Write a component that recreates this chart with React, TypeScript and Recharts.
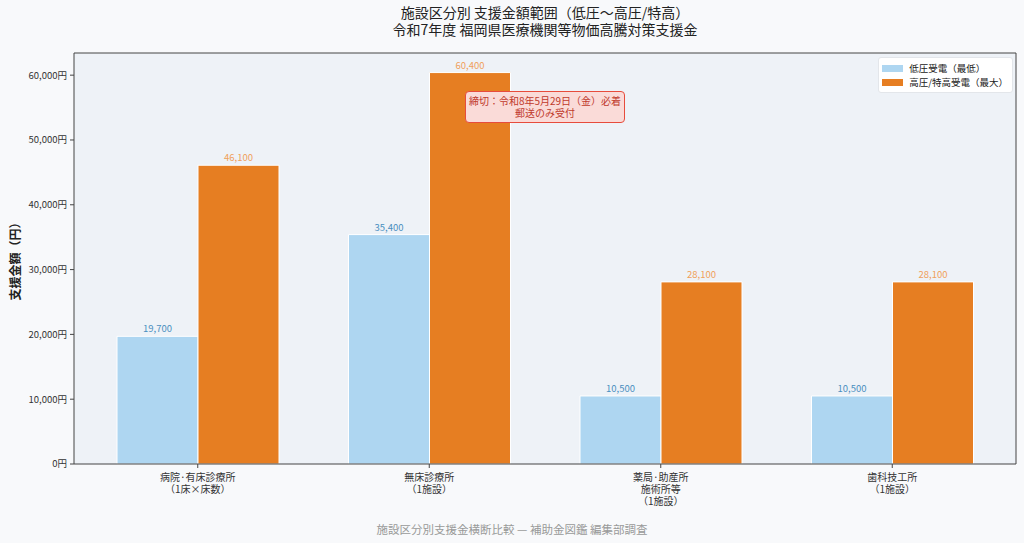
import React from 'react';
import { BarChart, Bar, XAxis, YAxis, CartesianGrid, Legend, LabelList } from 'recharts';

const categories = [
  '病院·有床診療所\n（1床×床数）',
  '無床診療所\n（1施設）',
  '薬局·助産所\n施術所等\n（1施設）',
  '歯科技工所\n（1施設）',
];
const lowValues = [19700, 35400, 10500, 10500];
const highValues = [46100, 60400, 28100, 28100];
const yTicks = [0, 10000, 20000, 30000, 40000, 50000, 60000];
const seriesNames = ['低圧受電（最低）', '高圧/特高受電（最大）'];

const data = categories.map((name, i) => ({ name, low: lowValues[i], high: highValues[i] }));

const FONT = '"Noto Sans CJK JP", "Noto Sans", sans-serif';
const LOW = '#aed6f1';
const HIGH = '#e67e22';

const fmt = (v: any) => Number(v).toLocaleString('en-US');

const CategoryTick = ({ x, y, payload }: any) => {
  const lines = String(payload.value).split('\n');
  return (
    <text x={x} y={y} textAnchor="middle" fontSize={10} fill="#333" fontFamily={FONT}>
      {lines.map((l, i) => (
        <tspan key={i} x={x} dy={i === 0 ? 11 : 12}>{l}</tspan>
      ))}
    </text>
  );
};

const LegendBox = () => (
  <div style={{ background: '#fff', border: '1px solid #e3e6ea', borderRadius: 3, padding: '3px 4px 3px 3px', fontFamily: FONT, fontSize: 9.5, color: '#222', lineHeight: '14px' }}>
    {seriesNames.map((n, i) => (
      <div key={n} style={{ display: 'flex', alignItems: 'center' }}>
        <span style={{ display: 'inline-block', width: 21, height: 7, background: i === 0 ? LOW : HIGH, marginRight: 6 }} />
        {n}
      </div>
    ))}
  </div>
);

export default function App() {
  return (
    <div style={{ position: 'absolute', left: 0, top: 0, width: 1024, height: 543, background: '#f8f9fb', fontFamily: FONT }}>
      <div style={{ position: 'absolute', top: 4, left: 74, width: 942, textAlign: 'center', fontSize: 14, lineHeight: '17px', color: '#222' }}>
        施設区分別 支援金額範囲（低圧〜高圧/特高）<br />令和7年度 福岡県医療機関等物価高騰対策支援金
      </div>
      <BarChart
        width={1024}
        height={543}
        data={data}
        margin={{ top: 52, right: 7, left: 0, bottom: 0 }}
        barGap={0}
        barSize={81}
      >
        <CartesianGrid fill="#eef2f7" horizontal={false} vertical={false} />
        <XAxis
          dataKey="name"
          interval={0}
          padding={{ left: 8, right: 8 }}
          tick={<CategoryTick />}
          tickSize={4}
          stroke="#444"
          height={79}
        />
        <XAxis xAxisId="top" dataKey="name" orientation="top" height={1} tick={false} tickLine={false} stroke="#444" />
        <YAxis
          domain={[0, 63420]}
          ticks={yTicks}
          tickFormatter={(v) => `${fmt(v)}円`}
          tick={{ fontSize: 9.5, fill: '#333', fontFamily: FONT }}
          tickSize={4}
          tickMargin={3}
          stroke="#444"
          width={74}
          label={{ value: '支援金額（円）', angle: -90, position: 'insideLeft', offset: 16, style: { fontSize: 12, fontWeight: 'bold', fill: '#222', fontFamily: FONT, textAnchor: 'middle' } }}
        />
        <YAxis yAxisId="right" orientation="right" width={1} tick={false} tickLine={false} stroke="#444" domain={[0, 63420]} />
        <Legend
          layout="vertical"
          align="center"
          verticalAlign="middle"
          wrapperStyle={{ top: 57, right: 11, left: 'auto', width: 'auto' }}
          content={() => <LegendBox />}
        />
        <Bar dataKey="low" name={seriesNames[0]} fill={LOW} stroke="#fff" strokeWidth={1} isAnimationActive={false}>
          <LabelList dataKey="low" position="top" offset={4} formatter={fmt} style={{ fontSize: 9.5, fill: '#4a8fc0', fontFamily: FONT }} />
        </Bar>
        <Bar dataKey="high" name={seriesNames[1]} fill={HIGH} stroke="#fff" strokeWidth={1} isAnimationActive={false}>
          <LabelList dataKey="high" position="top" offset={4} formatter={fmt} style={{ fontSize: 9.5, fill: '#f0a05a', fontFamily: FONT }} />
        </Bar>
      </BarChart>
      <div style={{ position: 'absolute', left: 465, top: 91, width: 160, height: 32, boxSizing: 'border-box', border: '1.5px solid #e74c3c', borderRadius: 4, background: '#fadbd8', color: '#c0392b', fontSize: 10, lineHeight: '12px', textAlign: 'center', paddingTop: 3 }}>
        締切：令和8年5月29日（金）必着<br />郵送のみ受付
      </div>
      <div style={{ position: 'absolute', top: 521, width: 1024, textAlign: 'center', fontSize: 11.5, color: '#999' }}>
        施設区分別支援金横断比較 — 補助金図鑑 編集部調査
      </div>
    </div>
  );
}
